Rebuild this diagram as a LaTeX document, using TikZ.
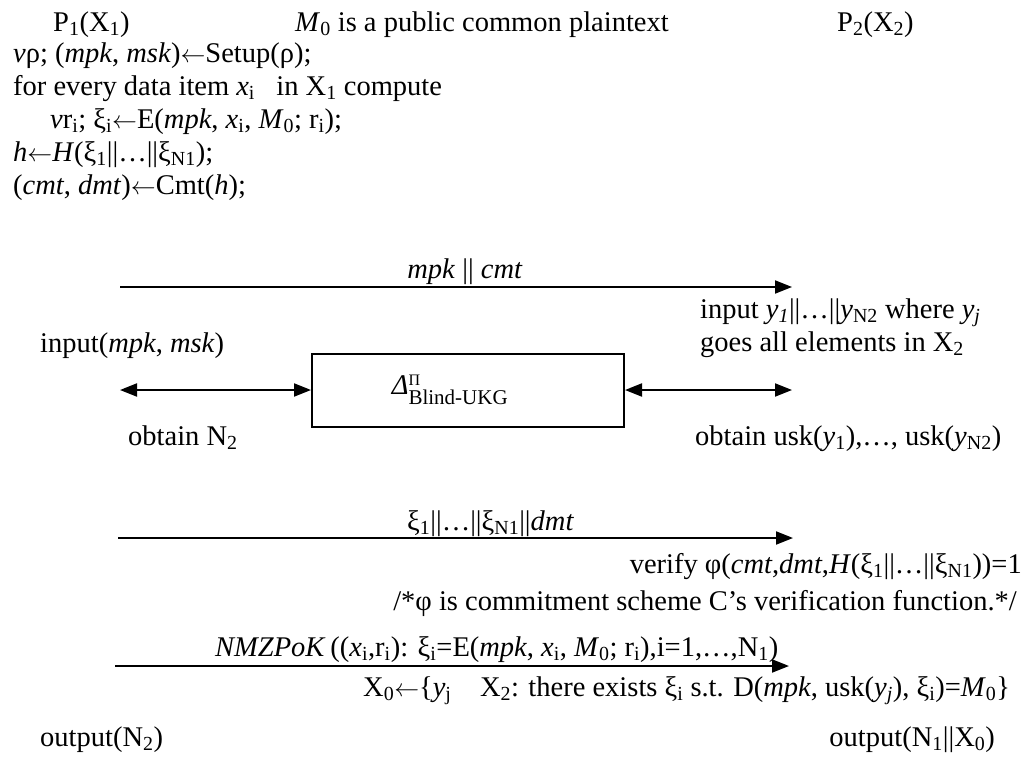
\documentclass[tikz,border=0pt]{standalone}
\usepackage{fontspec}
\usepackage{amsmath}
\setmainfont{Liberation Serif}
\usetikzlibrary{arrows.meta}
\newcommand\lo[1]{\textsubscript{#1}}
\newcommand\ii{\textit}
\newcommand\larr{$\leftarrow$}
\begin{document}
\begin{tikzpicture}[x=1pt,y=-1pt,
  txt/.style={inner sep=0pt, font=\fontsize{28.5}{33}\selectfont},
  msg/.style={line width=2pt, -{Triangle[length=17pt,width=13pt]}},
  dbl/.style={line width=2pt, {Triangle[length=17pt,width=13pt]}-{Triangle[length=17pt,width=13pt]}},
  boxst/.style={draw, line width=2pt, minimum width=312pt, minimum height=73pt, inner sep=0pt, font=\fontsize{28.5}{33}\selectfont}]
\useasboundingbox (0,0) rectangle (1028,756);
% header
\node[txt, anchor=base west] (p1) at (53,31) {P\lo{1}(X\lo{1})};
\node[txt, anchor=base west] (m0) at (295,31) {\ii{M}\lo{0} is a public common plaintext};
\node[txt, anchor=base west] (p2) at (837,31) {P\lo{2}(X\lo{2})};
% P1 computations
\node[txt, anchor=base west] (l1) at (13,62) {\ii{v}ρ; (\ii{mpk}, \ii{msk})\larr Setup(ρ);};
\node[txt, anchor=base west] (l2) at (13,95) {for every data item \ii{x}\lo{i}\enspace\ in X\lo{1} compute};
\node[txt, anchor=base west] (l3) at (50,128) {\ii{v}r\lo{i}; ξ\lo{i}\larr E(\ii{mpk}, \ii{x}\lo{i}, \ii{M}\lo{0}; r\lo{i});};
\node[txt, anchor=base west] (l4) at (13,161) {\ii{h}\larr\ii{H}(ξ\lo{1}||…||ξ\lo{N1});};
\node[txt, anchor=base west] (l5) at (13,194) {(\ii{cmt}, \ii{dmt})\larr Cmt(\ii{h});};
% message 1
\coordinate (a1s) at (120,287);
\coordinate (a1e) at (792,287);
\draw[msg] (a1s) -- (a1e);
\node[txt, anchor=base] (lab1) at (465,278) {\ii{mpk} || \ii{cmt}};
% P2 input
\node[txt, anchor=base west] (in2a) at (700,318) {input \ii{y\lo{1}}||…||\ii{y}\lo{N2} where \ii{y\lo{j}}};
\node[txt, anchor=base west] (in2b) at (700,351) {goes all elements in X\lo{2}};
\node[txt, anchor=base west] (in1) at (40,352) {input(\ii{mpk}, \ii{msk})};
% box
\node[boxst] (box) at (468,390) {\ii{Δ}$^{\text{\fontsize{16}{18}\selectfont Π}}_{\text{\fontsize{21}{24}\selectfont Blind-UKG}}$\hspace*{36pt}};
\coordinate (dl) at (120,390);
\coordinate (dr) at (792,390);
\draw[dbl] (dl) -- (box.west);
\draw[dbl] (box.east) -- (dr);
\node[txt, anchor=base west] (ob1) at (128,445) {obtain N\lo{2}};
\node[txt, anchor=base west] (ob2) at (695,445) {obtain usk(\ii{y}\lo{1}),…, usk(\ii{y}\lo{N2})};
% message 2
\node[txt, anchor=base west] (lab2) at (407,530) {ξ\lo{1}||…||ξ\lo{N1}||\ii{dmt}};
\coordinate (a2s) at (118,538);
\coordinate (a2e) at (793,538);
\draw[msg] (a2s) -- (a2e);
\node[txt, anchor=base east] (ver) at (1022,573) {verify φ(\ii{cmt},\ii{dmt},\ii{H}(ξ\lo{1}||…||ξ\lo{N1}))=1};
\node[txt, anchor=base east] (cmnt) at (1017,610) {/*φ is commitment scheme C’s verification function.*/};
% message 3
\node[txt, anchor=base west] (lab3) at (215,656) {\ii{NMZPoK}\,((\ii{x}\lo{i},r\lo{i}): ξ\lo{i}=E(\ii{mpk}, \ii{x}\lo{i}, \ii{M}\lo{0}; r\lo{i}),i=1,…,N\lo{1})};
\coordinate (a3s) at (115,666);
\coordinate (a3e) at (789,666);
\draw[msg] (a3s) -- (a3e);
\node[txt, anchor=base west] (x0) at (363,696) {X\lo{0}\larr\{\ii{y}\lo{j}\quad X\lo{2}: there exists ξ\lo{i} s.t. D(\ii{mpk}, usk(\ii{y\lo{j}}), ξ\lo{i})=\ii{M}\lo{0}\}};
% outputs
\node[txt, anchor=base west] (o1) at (40,746) {output(N\lo{2})};
\node[txt, anchor=base east] (o2) at (995,746) {output(N\lo{1}||X\lo{0})};
\end{tikzpicture}
\end{document}
